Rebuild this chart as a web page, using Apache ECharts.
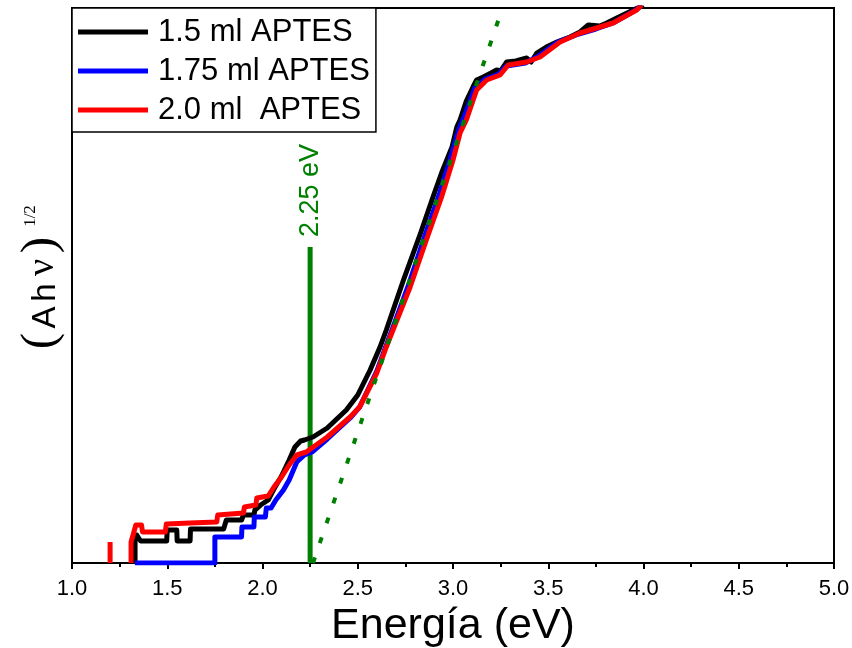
<!DOCTYPE html>
<html>
<head>
<meta charset="utf-8">
<script src="https://cdn.jsdelivr.net/npm/echarts@6/dist/echarts.min.js"></script>
<style>
  html, body { margin: 0; padding: 0; background: #fff; }
  #chart { width: 852px; height: 648px; }
</style>
</head>
<body>
<div id="chart"></div>
<script>
// Tauc plot, (Ahν)^1/2 versus photon energy, for three APTES loadings
const seriesNames = ['1.5 ml APTES', '1.75 ml APTES', '2.0 ml  APTES'];
const seriesColors = ['#000000', '#0000ff', '#ff0000'];
const xTickLabels = ['1.0', '1.5', '2.0', '2.5', '3.0', '3.5', '4.0', '4.5', '5.0'];

// [energy (eV), (Ahν)^1/2 in arbitrary units]
const aptes150 = [
  [1.331, 0], [1.331, 0.22], [1.34, 0.28], [1.36, 0.22], [1.497, 0.22], [1.50, 0.33],
  [1.55, 0.33], [1.552, 0.22], [1.62, 0.22], [1.622, 0.34], [1.656, 0.34], [1.796, 0.34],
  [1.81, 0.43], [1.89, 0.43], [1.90, 0.48], [1.955, 0.48], [1.96, 0.53], [1.99, 0.58],
  [2.03, 0.63], [2.06, 0.74], [2.10, 0.87], [2.14, 1.03], [2.17, 1.16], [2.20, 1.22],
  [2.22, 1.23], [2.265, 1.26], [2.34, 1.35], [2.44, 1.53], [2.50, 1.68], [2.565, 1.93],
  [2.617, 2.16], [2.65, 2.33], [2.74, 2.83], [2.83, 3.30], [2.895, 3.66], [2.94, 3.90],
  [2.995, 4.16], [3.02, 4.36], [3.037, 4.43], [3.07, 4.62], [3.105, 4.76], [3.124, 4.83],
  [3.159, 4.86], [3.20, 4.90], [3.229, 4.93], [3.25, 4.92], [3.282, 5.01], [3.33, 5.02],
  [3.387, 5.05], [3.41, 5.01], [3.44, 5.10], [3.49, 5.16], [3.545, 5.21], [3.614, 5.26],
  [3.667, 5.31], [3.71, 5.38], [3.77, 5.37], [3.807, 5.40], [3.86, 5.45], [3.947, 5.53],
  [4.0, 5.58]
];
const aptes175 = [
  [1.33, 0], [1.75, 0], [1.75, 0.26], [1.89, 0.26], [1.892, 0.36], [1.955, 0.36],
  [1.957, 0.46], [2.015, 0.46], [2.02, 0.55], [2.045, 0.55], [2.07, 0.63], [2.11, 0.73],
  [2.14, 0.83], [2.18, 1.01], [2.22, 1.08], [2.26, 1.11], [2.34, 1.24], [2.46, 1.45],
  [2.51, 1.56], [2.60, 1.92], [2.65, 2.18], [2.68, 2.33], [2.77, 2.80], [2.85, 3.26],
  [2.93, 3.70], [2.99, 4.07], [3.03, 4.33], [3.06, 4.47], [3.115, 4.75], [3.17, 4.84],
  [3.24, 4.89], [3.28, 4.97], [3.38, 5.00], [3.45, 5.07], [3.55, 5.21], [3.66, 5.29],
  [3.75, 5.34], [3.84, 5.40], [3.96, 5.53], [3.99, 5.58]
];
const aptes200 = [
  [1.20, 0], [1.20, 0.21], [1.25, '-'],
  [1.31, 0], [1.31, 0.21], [1.325, 0.31], [1.335, 0.38], [1.365, 0.38], [1.37, 0.31],
  [1.49, 0.31], [1.495, 0.39], [1.62, 0.40], [1.76, 0.41], [1.765, 0.48], [1.90, 0.50],
  [1.905, 0.56], [1.965, 0.58], [1.97, 0.65], [2.03, 0.67], [2.06, 0.76], [2.10, 0.86],
  [2.14, 0.98], [2.18, 1.08], [2.23, 1.11], [2.34, 1.26], [2.46, 1.46], [2.51, 1.56],
  [2.60, 1.90], [2.65, 2.16], [2.685, 2.33], [2.775, 2.76], [2.86, 3.23], [2.94, 3.66],
  [3.0, 4.03], [3.037, 4.30], [3.07, 4.43], [3.124, 4.73], [3.177, 4.83], [3.247, 4.88],
  [3.29, 4.98], [3.387, 5.01], [3.457, 5.06], [3.562, 5.21], [3.667, 5.30], [3.754, 5.35],
  [3.84, 5.40], [3.964, 5.53], [3.99, 5.58]
];

// Band-gap marker and the linear extrapolation of the absorption edge
const gapEnergy = 2.25;
const gapMarker = [[gapEnergy, 0], [gapEnergy, 3.16]];
const edgeFit = [[2.265, 0], [3.26, 5.55]];
const gapLabel = '2.25 eV';

const green = '#008000';
const sans = '"Liberation Sans", Arial, sans-serif';
const serif = '"Liberation Serif", "Times New Roman", serif';

const chart = echarts.init(document.getElementById('chart'), null, { renderer: 'canvas' });

const curves = [aptes150, aptes175, aptes200].map((d, i) => ({
  name: seriesNames[i],
  type: 'line',
  data: d,
  showSymbol: false,
  symbol: 'none',
  connectNulls: false,
  lineStyle: { color: seriesColors[i], width: 5, join: 'round' },
  itemStyle: { color: seriesColors[i] },
  z: 3 + i,
  animation: false
}));

// rotated y-axis title pieces: (Ahν) with a serif 1/2 exponent
function vText(text, x, y, font, size) {
  return {
    type: 'text', x: x, y: y, rotation: Math.PI / 2,
    style: {
      text: text, fontFamily: font, fontSize: size, fill: '#000',
      align: 'center', verticalAlign: 'middle'
    }
  };
}

chart.setOption({
  animation: false,
  backgroundColor: '#ffffff',
  grid: {
    left: 72, right: 18, top: 8, bottom: 85,
    outerBoundsMode: 'none',
    containLabel: false,
    show: true, borderColor: '#000', borderWidth: 2, backgroundColor: 'transparent'
  },
  legend: {
    data: seriesNames.map(n => ({ name: n, icon: 'rect' })),
    orient: 'vertical',
    left: 72, top: 8,
    padding: [7, 6, 5, 6],
    itemWidth: 70, itemHeight: 5,
    itemGap: 5,
    borderColor: '#000', borderWidth: 1.5,
    backgroundColor: '#fff',
    textStyle: { fontFamily: sans, fontSize: 31, color: '#000', lineHeight: 34, padding: [0, 0, 0, 5] },
    selectedMode: false,
    z: 10
  },
  xAxis: {
    type: 'value', min: 1, max: 5, interval: 0.5,
    axisLine: { show: true, onZero: false, lineStyle: { color: '#000', width: 2 } },
    axisTick: { show: true, inside: false, length: 6, lineStyle: { color: '#000', width: 2 } },
    minorTick: { show: true, splitNumber: 2, length: 4, lineStyle: { color: '#000', width: 2 } },
    splitLine: { show: false },
    axisLabel: {
      color: '#000', fontFamily: sans, fontSize: 22, margin: 15,
      formatter: v => xTickLabels[Math.round((v - 1) / 0.5)]
    },
    name: 'Energía (eV)',
    nameLocation: 'middle',
    nameGap: 42,
    nameTextStyle: { fontFamily: sans, fontSize: 43, color: '#000' }
  },
  yAxis: {
    type: 'value', min: 0, max: 5.55,
    axisLine: { show: true, lineStyle: { color: '#000', width: 2 } },
    axisTick: { show: false },
    axisLabel: { show: false },
    splitLine: { show: false }
  },
  graphic: [
    vText('(', 41, 341, serif, 49),
    vText('A', 45.5, 317.5, sans, 33),
    vText('h', 45.5, 292.5, sans, 33),
    vText('ν', 43.5, 267.5, serif, 38),
    vText(')', 41, 245, serif, 49),
    vText('1/2', 31, 216, serif, 17)
  ],
  series: [
    {
      name: 'gap',
      type: 'line',
      data: [
        gapMarker[0],
        {
          value: gapMarker[1],
          label: {
            show: true, position: 'top', distance: 10, rotate: 90,
            align: 'left', verticalAlign: 'middle',
            formatter: gapLabel, color: green, fontFamily: sans, fontSize: 27
          }
        }
      ],
      symbol: 'circle',
      symbolSize: 0,
      showSymbol: true,
      lineStyle: { color: green, width: 5 },
      itemStyle: { color: green },
      z: 2
    },
    ...curves,
    {
      name: 'fit',
      type: 'line',
      data: edgeFit,
      symbol: 'none',
      lineStyle: { color: green, width: 4, type: [6, 15], cap: 'butt' },
      z: 8
    }
  ]
});
</script>
</body>
</html>
